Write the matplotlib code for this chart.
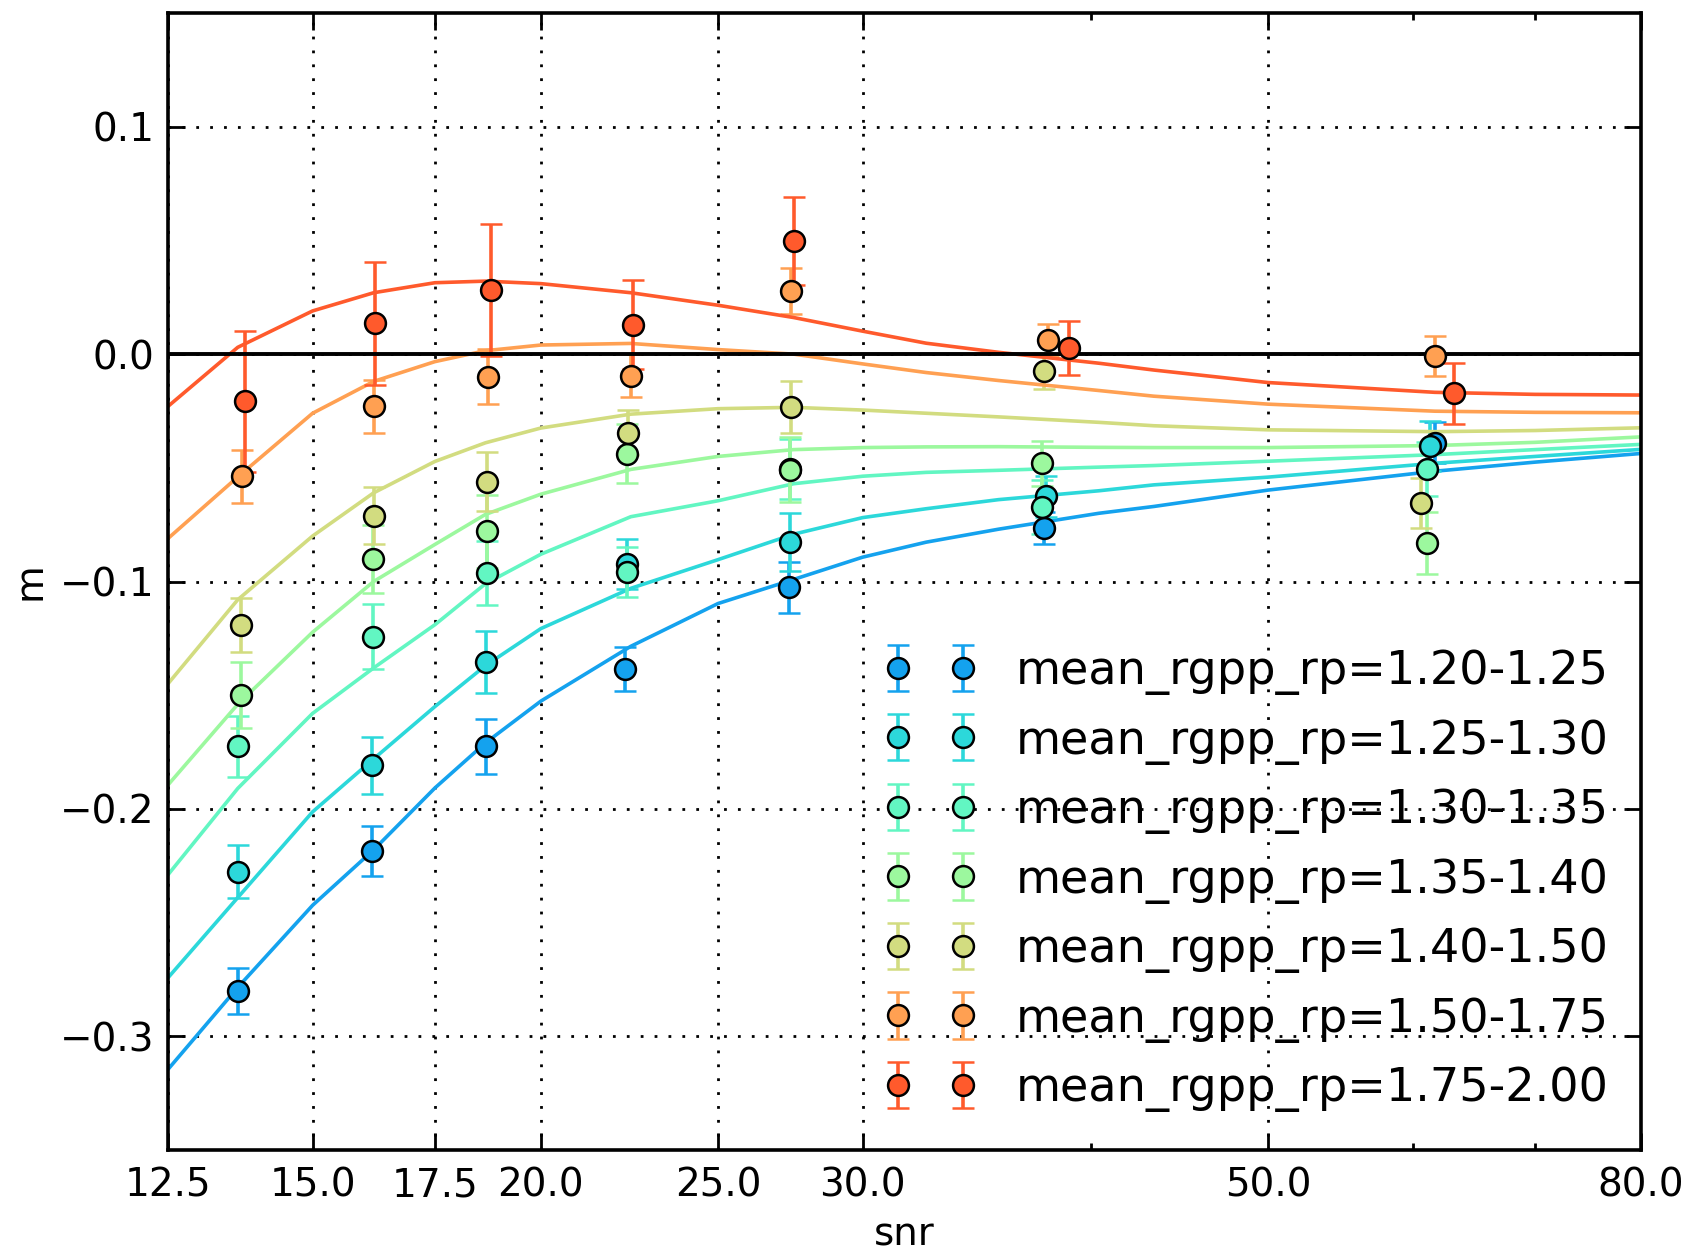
import numpy as np
import matplotlib
matplotlib.use("Agg")
import matplotlib.pyplot as plt
from matplotlib.ticker import FixedLocator, FormatStrFormatter, NullFormatter

# etiquetas de los bins y colores
labels = ["mean_rgpp_rp=1.20-1.25", "mean_rgpp_rp=1.25-1.30", "mean_rgpp_rp=1.30-1.35",
          "mean_rgpp_rp=1.35-1.40", "mean_rgpp_rp=1.40-1.50", "mean_rgpp_rp=1.50-1.75",
          "mean_rgpp_rp=1.75-2.00"]
colors = ["#14a2ee", "#2cd8da", "#62f6c2", "#9cf89e", "#d2dc80", "#ffa052", "#ff5a2c"]

# puntos medidos (snr, m, error)
snr_pts = [
    [13.65, 16.16, 18.66, 22.25, 27.35, 37.7, 61.7],
    [13.65, 16.17, 18.67, 22.28, 27.37, 37.8, 61.3],
    [13.66, 16.18, 18.68, 22.28, 27.38, 37.6, 61.1],
    [13.70, 16.19, 18.68, 22.29, 27.38, 37.6, 61.1],
    [13.70, 16.20, 18.68, 22.31, 27.40, 37.7, 60.6],
    [13.73, 16.20, 18.72, 22.40, 27.42, 37.9, 61.7],
    [13.78, 16.22, 18.77, 22.45, 27.53, 38.9, 63.2],
]
m_pts = [
    [-0.2800, -0.2186, -0.1725, -0.1383, -0.1026, -0.0764, -0.0390],
    [-0.2276, -0.1808, -0.1354, -0.0924, -0.0828, -0.0625, -0.0402],
    [-0.1725, -0.1243, -0.0962, -0.0958, -0.0505, -0.0672, -0.0506],
    [-0.1499, -0.0901, -0.0780, -0.0438, -0.0508, -0.0481, -0.0832],
    [-0.1191, -0.0710, -0.0561, -0.0345, -0.0233, -0.0073, -0.0654],
    [-0.0538, -0.0229, -0.0099, -0.0095, 0.0278, 0.0063, -0.0009],
    [-0.0208, 0.0135, 0.0283, 0.0130, 0.0498, 0.0026, -0.0172],
]
m_err = [
    [0.0100, 0.0110, 0.0122, 0.0097, 0.0113, 0.0070, 0.0090],
    [0.0115, 0.0126, 0.0138, 0.0110, 0.0128, 0.0090, 0.0110],
    [0.0133, 0.0142, 0.0140, 0.0110, 0.0130, 0.0120, 0.0120],
    [0.0145, 0.0150, 0.0160, 0.0130, 0.0143, 0.0100, 0.0137],
    [0.0120, 0.0124, 0.0130, 0.0100, 0.0115, 0.0080, 0.0110],
    [0.0118, 0.0117, 0.0120, 0.0095, 0.0100, 0.0070, 0.0087],
    [0.0310, 0.0270, 0.0290, 0.0195, 0.0195, 0.0118, 0.0135],
]

# curvas ajustadas
snr_fit = [12.5, 13.65, 15.0, 16.2, 17.5, 18.65, 20.0, 22.4, 25.0, 27.5, 30.0,
           32.5, 35.6, 40.4, 43.3, 50.0, 61.7, 70.0, 80.0]
m_fit = [
    [-0.3146, -0.2785, -0.2424, -0.2180, -0.1908, -0.1710, -0.1526, -0.1285, -0.1097, -0.0991,
     -0.0893, -0.0827, -0.0770, -0.0700, -0.0670, -0.0598, -0.0515, -0.0475, -0.0437],
    [-0.2743, -0.2390, -0.2013, -0.1780, -0.1550, -0.1370, -0.1207, -0.1030, -0.0904, -0.0792,
     -0.0719, -0.0680, -0.0640, -0.0601, -0.0575, -0.0541, -0.0480, -0.0450, -0.0419],
    [-0.2290, -0.1910, -0.1580, -0.1380, -0.1190, -0.1010, -0.0880, -0.0715, -0.0645, -0.0570,
     -0.0537, -0.0520, -0.0511, -0.0497, -0.0490, -0.0471, -0.0442, -0.0420, -0.0397],
    [-0.1895, -0.1540, -0.1223, -0.1000, -0.0837, -0.0705, -0.0616, -0.0507, -0.0450, -0.0420,
     -0.0411, -0.0408, -0.0407, -0.0410, -0.0411, -0.0411, -0.0402, -0.0388, -0.0364],
    [-0.1450, -0.1080, -0.0800, -0.0610, -0.0472, -0.0390, -0.0325, -0.0264, -0.0240, -0.0234,
     -0.0246, -0.0260, -0.0276, -0.0300, -0.0315, -0.0333, -0.0341, -0.0336, -0.0324],
    [-0.0811, -0.0540, -0.0260, -0.0120, -0.0033, 0.0015, 0.0040, 0.0047, 0.0020, 0.0000,
     -0.0043, -0.0081, -0.0116, -0.0160, -0.0185, -0.0220, -0.0251, -0.0256, -0.0258],
    [-0.0230, 0.0030, 0.0190, 0.0270, 0.0314, 0.0321, 0.0310, 0.0270, 0.0215, 0.0161,
     0.0101, 0.0048, 0.0008, -0.0040, -0.0070, -0.0125, -0.0168, -0.0177, -0.0180],
]

xticks = [12.5, 15.0, 17.5, 20.0, 25.0, 30.0, 50.0, 80.0]
xminor = [40.0, 60.0, 70.0]
yticks = [-0.3, -0.2, -0.1, 0.0, 0.1]

fig = plt.figure(figsize=(8.49, 6.275), dpi=200)
ax = fig.add_axes([0.0989, 0.0837, 0.8675, 0.9059])

for i in range(len(labels)):
    ax.errorbar(snr_pts[i], m_pts[i], yerr=m_err[i], fmt="o", color=colors[i],
                markerfacecolor=colors[i], markeredgecolor="k", markeredgewidth=0.9,
                markersize=7.5, elinewidth=1.3, capsize=4, capthick=1.3, label=labels[i])
    ax.plot(snr_fit, m_fit[i], "-", color=colors[i], lw=1.3)

ax.axhline(0.0, color="k", lw=1.4)

ax.set_xscale("log")
ax.set_xlim(12.5, 80)
ax.set_ylim(-0.35, 0.15)
ax.xaxis.set_major_locator(FixedLocator(xticks))
ax.xaxis.set_major_formatter(FormatStrFormatter("%.1f"))
ax.xaxis.set_minor_locator(FixedLocator(xminor))
ax.xaxis.set_minor_formatter(NullFormatter())
ax.set_yticks(yticks)

ax.grid(True, which="major", color="k", linestyle=(0, (1, 4)), lw=1.0)
ax.tick_params(which="both", direction="in", top=True, right=True, labelsize=14)
ax.tick_params(which="major", length=6, width=1.0, pad=5)
ax.tick_params(axis="x", which="major", pad=6)
ax.tick_params(which="minor", length=2.5, width=1.0)
for s in ax.spines.values():
    s.set_linewidth(1.3)

ax.set_xlabel("snr", fontsize=14, labelpad=4)
ax.set_ylabel("m", fontsize=14)

ax.legend(loc="lower right", bbox_to_anchor=(1.0037, 0.0), numpoints=2, frameon=False,
          fontsize=16.6, labelspacing=0.51, handlelength=2.02, handletextpad=0.83,
          borderaxespad=0.42, borderpad=0.4)

fig.savefig("out.png", dpi=200, facecolor="white")
